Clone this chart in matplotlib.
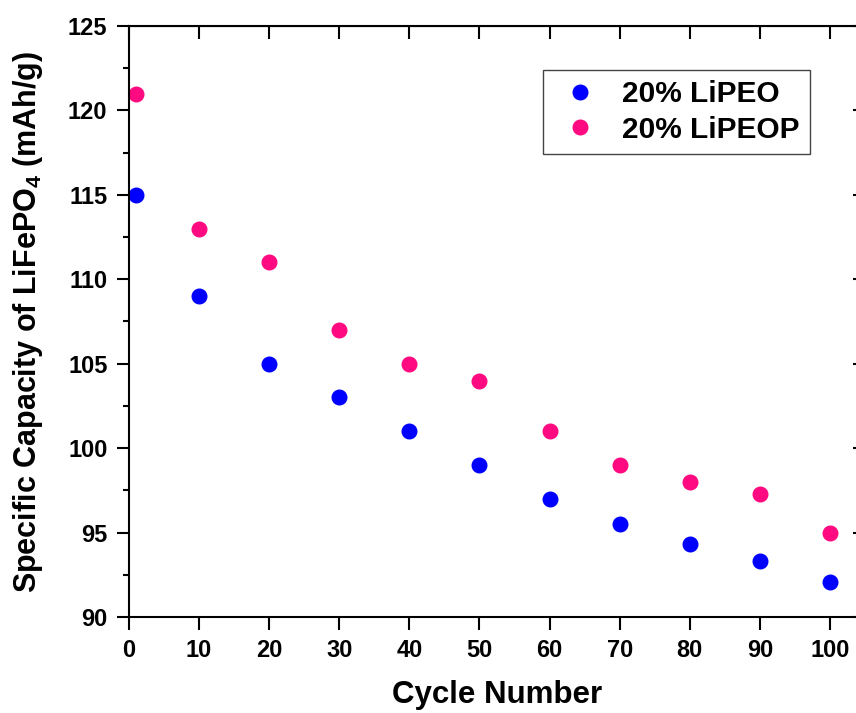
import numpy as np
import matplotlib
matplotlib.use('Agg')
import matplotlib.pyplot as plt
from matplotlib.ticker import MultipleLocator

plt.rcParams['font.family'] = ['Liberation Sans', 'DejaVu Sans']
plt.rcParams['font.weight'] = 'bold'
plt.rcParams['mathtext.fontset'] = 'custom'
plt.rcParams['mathtext.rm'] = 'Liberation Sans:bold'
plt.rcParams['mathtext.bf'] = 'Liberation Sans:bold'

# data
cycles = [1, 10, 20, 30, 40, 50, 60, 70, 80, 90, 100]
lipeo = [115, 109, 105, 103, 101, 99, 97, 95.5, 94.3, 93.3, 92.1]
lipeop = [121, 113, 111, 107, 105, 104, 101, 99, 98, 97.3, 95]

fig = plt.figure(figsize=(8.56, 7.13), dpi=100)
ax = fig.add_axes([129/856, 1 - 617/713, 736/856, 591/713])

ax.plot(cycles, lipeo, 'o', color='#0000ff', markersize=10.5, label='20% LiPEO')
ax.plot(cycles, lipeop, 'o', color='#ff0a80', markersize=10.5, label='20% LiPEOP')

ax.set_xlim(0, 105)
ax.set_ylim(90, 125)
ax.xaxis.set_major_locator(MultipleLocator(10))
ax.yaxis.set_major_locator(MultipleLocator(5))
ax.yaxis.set_minor_locator(MultipleLocator(2.5))

for s in ax.spines.values():
    s.set_linewidth(1.5)
ax.tick_params(which='major', direction='out', length=9, width=1.5, labelsize=17, pad=6.5)
ax.tick_params(which='minor', direction='out', length=4.5, width=1.5)

# inward ticks on top and right
top = ax.secondary_xaxis('top')
top.xaxis.set_major_locator(MultipleLocator(10))
top.tick_params(direction='in', length=9, width=1.5, labeltop=False)
right = ax.secondary_yaxis('right')
right.yaxis.set_major_locator(MultipleLocator(5))
right.tick_params(direction='in', length=9, width=1.5, labelright=False)

ax.set_xlabel('Cycle Number', fontsize=22.5, fontweight='bold', labelpad=13)
ax.set_ylabel(r'Specific Capacity of LiFePO$_{4}$ (mAh/g)', fontsize=22, fontweight='bold', labelpad=16.5)

leg = ax.legend(loc='upper left', bbox_to_anchor=(543/856, 1 - 70/713), bbox_transform=fig.transFigure,
                borderaxespad=0, fancybox=False, framealpha=1, edgecolor='#444444',
                prop={'size': 21.5, 'weight': 'bold'}, handlelength=1.8, handletextpad=0.5,
                borderpad=0.35, labelspacing=0.25)
leg.get_frame().set_linewidth(1.0)

fig.savefig('out.png', dpi=100)
plt.close(fig)
